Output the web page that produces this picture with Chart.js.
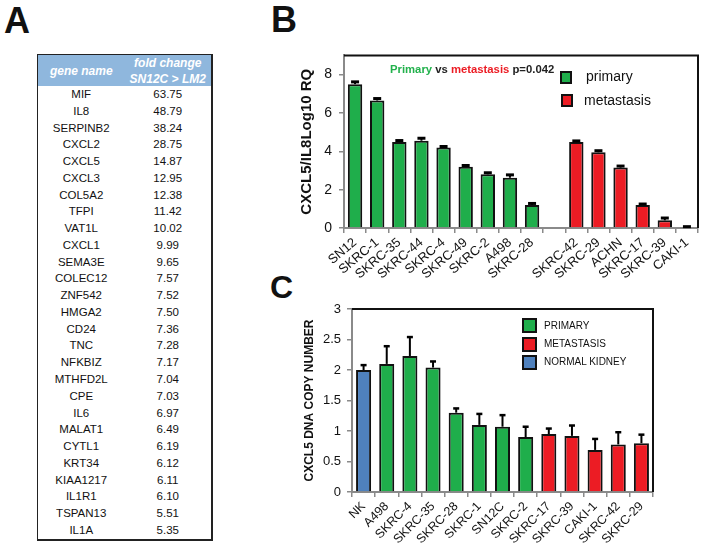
<!DOCTYPE html>
<html><head><meta charset="utf-8">
<script src="https://cdn.jsdelivr.net/npm/chart.js@4.4.1/dist/chart.umd.min.js"></script>
<style>
html,body{margin:0;padding:0;background:#fff;}
body{width:704px;height:552px;position:relative;overflow:hidden;font-family:"Liberation Sans",Arial,sans-serif;color:#111;}
.abs{position:absolute;white-space:nowrap;}
.letter{font-weight:bold;color:#111;}
#tbl{position:absolute;left:37px;top:54px;width:176px;border:1px solid #222;border-right:2px solid #222;border-bottom:2px solid #222;box-sizing:border-box;}
.hdr{height:31px;background:#8fb7dd;display:flex;color:#fff;font-weight:bold;font-style:italic;font-size:12px;line-height:16px;}
.hdr div{flex:1;display:flex;align-items:center;justify-content:center;text-align:center;}
.row{display:flex;height:16.78px;font-size:11.5px;line-height:16.78px;color:#111;}
.row div{flex:1;text-align:center;}
canvas{position:absolute;}
.sq{position:absolute;box-sizing:border-box;border:2px solid #111;}
</style></head>
<body>
<div class="abs letter" style="left:4px;top:3px;font-size:36px;line-height:36px;">A</div>
<div class="abs letter" style="left:271px;top:2px;font-size:36px;line-height:36px;">B</div>
<div class="abs letter" style="left:270px;top:271px;font-size:32px;line-height:32px;">C</div>

<div id="tbl"></div>

<canvas id="chartB" width="444" height="250" style="left:260px;top:40px;"></canvas>
<canvas id="chartC" width="400" height="262" style="left:262px;top:290px;"></canvas>

<div class="abs" style="left:390px;top:62px;font-weight:bold;font-size:11.3px;line-height:14px;color:#222;"><span style="color:#22b14c">Primary</span> vs <span style="color:#ec1c24">metastasis</span> p=0.042</div>
<div class="sq" style="left:560px;top:71px;width:12px;height:13px;background:#1fae4b;"></div>
<div class="abs" style="left:586px;top:68px;font-size:14px;line-height:16px;">primary</div>
<div class="sq" style="left:561px;top:94px;width:12px;height:13px;background:#ec1c24;"></div>
<div class="abs" style="left:584px;top:92px;font-size:14px;line-height:16px;">metastasis</div>

<div class="sq" style="left:522px;top:318px;width:15px;height:15px;background:#1fae4b;"></div>
<div class="abs" style="left:544px;top:320px;font-size:10px;line-height:12px;">PRIMARY</div>
<div class="sq" style="left:522px;top:337px;width:15px;height:15px;background:#ec1c24;"></div>
<div class="abs" style="left:544px;top:338px;font-size:10px;line-height:12px;">METASTASIS</div>
<div class="sq" style="left:522px;top:355px;width:15px;height:15px;background:#4f81bd;"></div>
<div class="abs" style="left:544px;top:356px;font-size:10px;line-height:12px;">NORMAL KIDNEY</div>

<script>
// ---------- Panel A data ----------
const geneNames = ['MIF','IL8','SERPINB2','CXCL2','CXCL5','CXCL3','COL5A2','TFPI','VAT1L','CXCL1','SEMA3E','COLEC12','ZNF542','HMGA2','CD24','TNC','NFKBIZ','MTHFD2L','CPE','IL6','MALAT1','CYTL1','KRT34','KIAA1217','IL1R1','TSPAN13','IL1A'];
const foldChanges = ['63.75','48.79','38.24','28.75','14.87','12.95','12.38','11.42','10.02','9.99','9.65','7.57','7.52','7.50','7.36','7.28','7.17','7.04','7.03','6.97','6.49','6.19','6.12','6.11','6.10','5.51','5.35'];

// ---------- Panel B data ----------
const bLabels = ['SN12','SKRC-1','SKRC-35','SKRC-44','SKRC-4','SKRC-49','SKRC-2','A498','SKRC-28','','SKRC-42','SKRC-29','ACHN','SKRC-17','SKRC-39','CAKI-1'];
const bPrimary = [7.5,6.65,4.48,4.55,4.2,3.2,2.8,2.62,1.2,null,null,null,null,null,null,null];
const bPrimaryErr = [0.12,0.1,0.08,0.13,0.05,0.06,0.08,0.15,0.08,null,null,null,null,null,null,null];
const bMetastasis = [null,null,null,null,null,null,null,null,null,null,4.48,3.95,3.15,1.2,0.4,0.05];
const bMetastasisErr = [null,null,null,null,null,null,null,null,null,null,0.06,0.08,0.08,0.05,0.12,0.02];
const bYTicks = ['0','1','2','3','4','5','6','7','8','9'];

// ---------- Panel C data ----------
const cLabels = ['NK','A498','SKRC-4','SKRC-35','SKRC-28','SKRC-1','SN12C','SKRC-2','SKRC-17','SKRC-39','CAKI-1','SKRC-42','SKRC-29'];
const cValues = [2.0,2.1,2.23,2.04,1.3,1.1,1.07,0.9,0.95,0.92,0.69,0.78,0.8];
const cErrors = [0.08,0.29,0.31,0.1,0.07,0.18,0.19,0.17,0.09,0.17,0.18,0.2,0.14];
const cGroups = ['normal','primary','primary','primary','primary','primary','primary','primary','metastasis','metastasis','metastasis','metastasis','metastasis'];
const cYTicks = ['0','0.5','1','1.5','2','2.5','3'];

const GREEN = '#1fae4b', RED = '#ec1c24', BLUE = '#4f81bd';
const groupColor = {normal: BLUE, primary: GREEN, metastasis: RED};
const FONT = "'Liberation Sans', Arial, sans-serif";
const AXIS = '#8a8a8a';

// build table
const tbl = document.getElementById('tbl');
let html = '<div class="hdr"><div>gene name</div><div>fold change<br>SN12C &gt; LM2</div></div>';
geneNames.forEach((g, i) => { html += '<div class="row"><div>' + g + '</div><div>' + foldChanges[i] + '</div></div>'; });
tbl.innerHTML = html;

Chart.defaults.font.family = FONT;
Chart.defaults.color = '#111';

const errorBars = {
  id: 'errorBars',
  afterDatasetsDraw(chart, args, opts) {
    const ctx = chart.ctx, y = chart.scales.y;
    chart.data.datasets.forEach((ds, di) => {
      if (!ds.errors) return;
      const meta = chart.getDatasetMeta(di);
      meta.data.forEach((bar, i) => {
        const v = ds.data[i], e = ds.errors[i];
        if (v == null || e == null) return;
        const yTop = y.getPixelForValue(v + e);
        ctx.save();
        ctx.strokeStyle = '#000';
        ctx.lineWidth = opts.stem;
        ctx.beginPath(); ctx.moveTo(bar.x, bar.y); ctx.lineTo(bar.x, yTop); ctx.stroke();
        ctx.lineWidth = opts.cap;
        ctx.beginPath(); ctx.moveTo(bar.x - opts.half, yTop); ctx.lineTo(bar.x + opts.half, yTop); ctx.stroke();
        ctx.restore();
      });
    });
  }
};
const frame = {
  id: 'frame',
  afterDraw(chart, args, opts) {
    const {left, top, right, bottom} = chart.chartArea, ctx = chart.ctx;
    ctx.save(); ctx.strokeStyle = '#111'; ctx.lineWidth = opts.width;
    ctx.beginPath(); ctx.moveTo(left, top); ctx.lineTo(right, top); ctx.lineTo(right, bottom); ctx.stroke();
    ctx.restore();
  }
};

new Chart(document.getElementById('chartB'), {
  type: 'bar',
  data: {
    labels: bLabels,
    datasets: [
      {data: bPrimary, errors: bPrimaryErr, backgroundColor: GREEN, borderColor: '#111', borderWidth: 2, grouped: false},
      {data: bMetastasis, errors: bMetastasisErr, backgroundColor: RED, borderColor: '#111', borderWidth: 2, grouped: false}
    ]
  },
  options: {
    responsive: false, animation: false, devicePixelRatio: 1,
    layout: {padding: {left: 0, top: 15, right: 6, bottom: 0}},
    datasets: {bar: {categoryPercentage: 1, barPercentage: 0.65}},
    plugins: {legend: {display: false}, tooltip: {enabled: false},
      errorBars: {stem: 2, cap: 3, half: 4}, frame: {width: 2}},
    scales: {
      x: {
        grid: {display: true, drawOnChartArea: false, drawTicks: true, tickLength: 5, color: AXIS, lineWidth: 1.5, offset: true},
        border: {display: true, color: AXIS, width: 2},
        ticks: {autoSkip: false, maxRotation: 40, minRotation: 40, padding: 2, color: '#111', font: {size: 13}},
        afterFit(s) { s.height = 62; }
      },
      y: {
        min: 0, max: 9,
        ticks: {stepSize: 1, padding: 7, color: '#111', font: {size: 14}, callback: (v, i) => bYTicks[i]},
        grid: {drawOnChartArea: false, tickLength: 5, color: AXIS, lineWidth: 1.5},
        border: {display: true, color: AXIS, width: 2},
        title: {display: true, text: 'CXCL5/IL8Log10 RQ', color: '#111', font: {size: 15, weight: 'bold'}, padding: {top: 38, bottom: 0}},
        afterFit(s) { s.width = 84; }
      }
    }
  },
  plugins: [errorBars, frame]
});

new Chart(document.getElementById('chartC'), {
  type: 'bar',
  data: {
    labels: cLabels,
    datasets: [
      {data: cValues, errors: cErrors, backgroundColor: cGroups.map(g => groupColor[g]), borderColor: '#111', borderWidth: 2}
    ]
  },
  options: {
    responsive: false, animation: false, devicePixelRatio: 1,
    layout: {padding: {left: 0, top: 19, right: 9, bottom: 0}},
    datasets: {bar: {categoryPercentage: 1, barPercentage: 0.65}},
    plugins: {legend: {display: false}, tooltip: {enabled: false},
      errorBars: {stem: 2, cap: 2.5, half: 3}, frame: {width: 2}},
    scales: {
      x: {
        grid: {display: true, drawOnChartArea: false, drawTicks: true, tickLength: 5, color: AXIS, lineWidth: 1.5, offset: true},
        border: {display: true, color: AXIS, width: 2},
        ticks: {autoSkip: false, maxRotation: 45, minRotation: 45, padding: 2, color: '#111', font: {size: 12.5}},
        afterFit(s) { s.height = 60; }
      },
      y: {
        min: 0, max: 3,
        ticks: {stepSize: 0.5, padding: 6, color: '#111', font: {size: 13}, callback: (v, i) => cYTicks[i]},
        grid: {drawOnChartArea: false, tickLength: 5, color: AXIS, lineWidth: 1.5},
        border: {display: true, color: AXIS, width: 2},
        title: {display: true, text: 'CXCL5 DNA COPY NUMBER', color: '#111', font: {size: 12, weight: 'bold'}, padding: {top: 40, bottom: 0}},
        afterFit(s) { s.width = 90; }
      }
    }
  },
  plugins: [errorBars, frame]
});
</script>
</body></html>
